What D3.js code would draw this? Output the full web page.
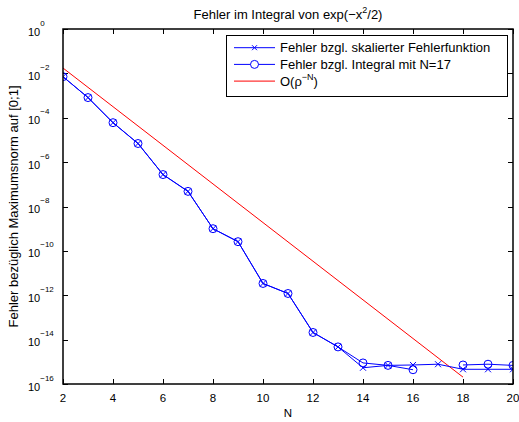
<!DOCTYPE html>
<html>
<head>
<meta charset="utf-8">
<script src="https://cdn.jsdelivr.net/npm/d3@7"></script>
<style>
  html, body { margin: 0; padding: 0; background: #fff; }
  svg { display: block; font-family: "Liberation Sans", Arial, Helvetica, sans-serif; }
</style>
</head>
<body>
<svg id="chart" width="519" height="422"></svg>
<script>
// Polynomial degree N
const degrees = [2, 3, 4, 5, 6, 7, 8, 9, 10, 11, 12, 13, 14, 15, 16, 17, 18, 19, 20];

// Error w.r.t. the scaled error function (max norm on [0;1])
const errScaledErf = [7.1e-3, 8.1e-4, 6.0e-5, 6.9e-6, 2.75e-7, 4.8e-8, 1.0e-9, 2.6e-10,
  3.4e-12, 1.2e-12, 2.1e-14, 4.7e-15, 5.4e-16, 6.9e-16, 7.2e-16, 7.8e-16, 4.6e-16, 4.6e-16, 4.6e-16];

// Error w.r.t. the integral computed with N=17 (zero at N=17, so no point there)
const errIntegralN17 = [7.1e-3, 8.1e-4, 6.0e-5, 6.9e-6, 2.75e-7, 4.8e-8, 1.0e-9, 2.6e-10,
  3.4e-12, 1.2e-12, 2.1e-14, 4.7e-15, 8.9e-16, 6.9e-16, 4.4e-16, null, 7.2e-16, 7.8e-16, 6.9e-16];

// Reference rate O(rho^-N)
const rateN = [2, 18];
const rateVals = [1.74e-2, 2.04e-16];

const xTicks = [2, 4, 6, 8, 10, 12, 14, 16, 18, 20];
const yTickExps = [0, -2, -4, -6, -8, -10, -12, -14, -16];

const svg = d3.select("#chart");
const mLeft = 63, mRight = 513, mTop = 29, mBottom = 384;

const x = d3.scaleLinear().domain([2, 20]).range([mLeft, mRight]);
const y = d3.scaleLog().domain([1e-16, 1]).range([mBottom, mTop]);

const fsTick = 11, fsText = 13;

// Ticks (inside, on all four sides)
const tickLen = 5;
const g = svg.append("g").attr("stroke", "#000").attr("stroke-width", 1);
xTicks.forEach(t => {
  const px = Math.round(x(t)) + 0.5;
  g.append("line").attr("x1", px).attr("x2", px).attr("y1", mBottom).attr("y2", mBottom - tickLen);
  g.append("line").attr("x1", px).attr("x2", px).attr("y1", mTop).attr("y2", mTop + tickLen);
});
yTickExps.forEach(e => {
  const py = Math.round(y(Math.pow(10, e))) + 0.5;
  g.append("line").attr("x1", mLeft).attr("x2", mLeft + tickLen).attr("y1", py).attr("y2", py);
  g.append("line").attr("x1", mRight).attr("x2", mRight - tickLen).attr("y1", py).attr("y2", py);
});

// Clip for data
svg.append("clipPath").attr("id", "plotclip").append("rect")
  .attr("x", mLeft).attr("y", mTop).attr("width", mRight - mLeft).attr("height", mBottom - mTop);

const plot = svg.append("g").attr("clip-path", "url(#plotclip)");

const blue = "#0000ff", red = "#ff0000";

// Rate line
const rateData = rateN.map((n, i) => [n, rateVals[i]]);
plot.append("path")
  .attr("d", d3.line().x(d => x(d[0])).y(d => y(d[1]))(rateData))
  .attr("fill", "none").attr("stroke", red).attr("stroke-width", 1);

const line = d3.line().defined(d => d[1] != null).x(d => x(d[0])).y(d => y(d[1]));

const s1 = degrees.map((n, i) => [n, errScaledErf[i]]);
const s2 = degrees.map((n, i) => [n, errIntegralN17[i]]);

plot.append("path").attr("d", line(s1)).attr("fill", "none").attr("stroke", blue).attr("stroke-width", 1);
plot.append("path").attr("d", line(s2)).attr("fill", "none").attr("stroke", blue).attr("stroke-width", 1);

// Cross markers
const cs = 3;
s1.filter(d => d[1] != null).forEach(d => {
  const cx = x(d[0]), cy = y(d[1]);
  plot.append("path")
    .attr("d", `M${cx - cs},${cy - cs}L${cx + cs},${cy + cs}M${cx - cs},${cy + cs}L${cx + cs},${cy - cs}`)
    .attr("stroke", blue).attr("stroke-width", 1).attr("fill", "none");
});
// Circle markers
s2.filter(d => d[1] != null).forEach(d => {
  plot.append("circle").attr("cx", x(d[0])).attr("cy", y(d[1])).attr("r", 4)
    .attr("fill", "none").attr("stroke", blue).attr("stroke-width", 1);
});

// Axes box
svg.append("rect").attr("x", mLeft).attr("y", mTop).attr("width", mRight - mLeft).attr("height", mBottom - mTop)
  .attr("fill", "none").attr("stroke", "#000").attr("stroke-width", 1.5);

// X tick labels
xTicks.forEach(t => {
  svg.append("text").attr("x", x(t)).attr("y", mBottom + 18).attr("text-anchor", "middle")
    .attr("font-size", 11.5).text(t);
});

// Y tick labels: 10^e
yTickExps.forEach(e => {
  const py = y(Math.pow(10, e));
  const t = svg.append("text").attr("x", 28).attr("y", py + 6.6).attr("font-size", fsTick);
  t.append("tspan").text("10");
  t.append("tspan").attr("dy", -10).attr("font-size", 8).text(e === 0 ? "0" : "\u2212" + Math.abs(e));
});

// Axis labels
svg.append("text").attr("x", (mLeft + mRight) / 2).attr("y", 417).attr("text-anchor", "middle")
  .attr("font-size", 11.5).text("N");
svg.append("text").attr("transform", `translate(18,${(mTop + mBottom) / 2}) rotate(-90)`)
  .attr("text-anchor", "middle").attr("font-size", fsText)
  .text("Fehler bezüglich Maximumsnorm auf [0;1]");

// Title
const title = svg.append("text").attr("x", (mLeft + mRight) / 2).attr("y", 19).attr("text-anchor", "middle")
  .attr("font-size", fsText);
title.append("tspan").text("Fehler im Integral von exp(\u2212x");
title.append("tspan").attr("dy", -6).attr("font-size", 9).text("2");
title.append("tspan").attr("dy", 6).text("/2)");

// Legend
const lg = svg.append("g");
lg.append("rect").attr("x", 226.5).attr("y", 35.5).attr("width", 281).attr("height", 61)
  .attr("fill", "#fff").attr("stroke", "#000").attr("stroke-width", 1);
const rows = [
  { label: "Fehler bzgl. skalierter Fehlerfunktion", color: blue, marker: "x" },
  { label: "Fehler bzgl. Integral mit N=17", color: blue, marker: "o" },
  { label: "O(ρ", color: red, marker: null }
];
rows.forEach((r, i) => {
  const ry = 47.7 + i * 16.7;
  lg.append("line").attr("x1", 234).attr("x2", 275).attr("y1", ry).attr("y2", ry)
    .attr("stroke", r.color).attr("stroke-width", 1);
  if (r.marker === "x") {
    const mx = 254.5;
    lg.append("path").attr("d", `M${mx - 2.5},${ry - 2.5}L${mx + 2.5},${ry + 2.5}M${mx - 2.5},${ry + 2.5}L${mx + 2.5},${ry - 2.5}`)
      .attr("stroke", r.color).attr("stroke-width", 1);
  } else if (r.marker === "o") {
    lg.append("circle").attr("cx", 254.5).attr("cy", ry).attr("r", 4)
      .attr("fill", "#fff").attr("stroke", r.color).attr("stroke-width", 1);
  }
  const t = lg.append("text").attr("x", 280).attr("y", ry + 4.6).attr("font-size", fsText);
  if (i < 2) {
    t.text(r.label);
  } else {
    t.append("tspan").text("O(ρ");
    t.append("tspan").attr("dy", -6).attr("font-size", 9).text("\u2212N");
    t.append("tspan").attr("dy", 6).text(")");
  }
});
</script>
</body>
</html>
